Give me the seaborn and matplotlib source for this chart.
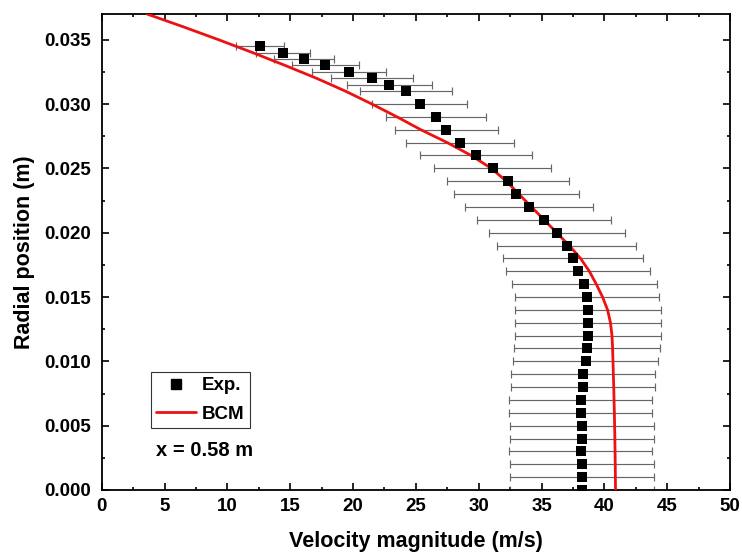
import numpy as np
import pandas as pd
import matplotlib
matplotlib.use("Agg")
import matplotlib.pyplot as plt
import seaborn as sns
from matplotlib.lines import Line2D
from matplotlib.ticker import MultipleLocator

# ---- data ----
exp_r = [0.0345, 0.0340, 0.0335, 0.0330, 0.0325, 0.0320, 0.0315, 0.0310,
         0.030, 0.029, 0.028, 0.027, 0.026, 0.025, 0.024, 0.023, 0.022, 0.021,
         0.020, 0.019, 0.018, 0.017, 0.016, 0.015, 0.014, 0.013, 0.012, 0.011,
         0.010, 0.009, 0.008, 0.007, 0.006, 0.005, 0.004, 0.003, 0.002, 0.001, 0.000]
exp_v = [12.6, 14.4, 16.1, 17.8, 19.7, 21.5, 22.9, 24.2,
         25.3, 26.6, 27.4, 28.5, 29.8, 31.1, 32.3, 33.0, 34.0, 35.2,
         36.2, 37.0, 37.5, 37.9, 38.4, 38.6, 38.7, 38.7, 38.7, 38.6,
         38.5, 38.3, 38.3, 38.1, 38.1, 38.2, 38.2, 38.1, 38.2, 38.2, 38.2]
exp_err = [1.90, 2.15, 2.40, 2.65, 2.95, 3.25, 3.40, 3.65,
           3.80, 4.00, 4.10, 4.30, 4.45, 4.65, 4.85, 4.95, 5.10, 5.30,
           5.40, 5.55, 5.60, 5.70, 5.75, 5.75, 5.80, 5.80, 5.80, 5.80,
           5.78, 5.75, 5.75, 5.72, 5.72, 5.72, 5.72, 5.72, 5.72, 5.72, 5.72]

bcm_r = [0.037, 0.036, 0.035, 0.034, 0.033, 0.032, 0.031, 0.030, 0.029, 0.028,
         0.027, 0.026, 0.025, 0.024, 0.023, 0.022, 0.021, 0.020, 0.019, 0.018,
         0.017, 0.016, 0.015, 0.014, 0.013, 0.012, 0.011, 0.010, 0.008, 0.006,
         0.004, 0.002, 0.000]
bcm_v = [3.6, 6.5, 9.3, 12.0, 14.6, 17.1, 19.4, 21.5, 23.5, 25.4,
         27.5, 29.4, 31.0, 32.2, 33.2, 34.2, 35.2, 36.2, 37.2, 38.1,
         38.8, 39.35, 39.85, 40.25, 40.48, 40.6, 40.65, 40.68, 40.74, 40.79,
         40.83, 40.86, 40.88]

annot = "x = 0.58 m"

exp_df = pd.DataFrame({"v": exp_v, "r": exp_r, "err": exp_err})
bcm_df = pd.DataFrame({"v": bcm_v, "r": bcm_r})

sns.set_theme(style="ticks")
plt.rcParams["font.family"] = ["Liberation Sans", "DejaVu Sans"]
plt.rcParams["font.weight"] = "bold"
plt.rcParams["axes.labelweight"] = "bold"
plt.rcParams["text.color"] = "black"
plt.rcParams["axes.labelcolor"] = "black"
plt.rcParams["xtick.color"] = "black"
plt.rcParams["ytick.color"] = "black"
plt.rcParams["xtick.labelcolor"] = "black"
plt.rcParams["ytick.labelcolor"] = "black"

fig = plt.figure(figsize=(7.42, 5.57), dpi=100)
ax = fig.add_axes([0.137, 0.1203, 0.847, 0.8546])

# error bars
ax.errorbar(exp_df["v"], exp_df["r"], xerr=exp_df["err"], fmt="none",
            ecolor="#666666", elinewidth=0.85, capsize=3.2, capthick=0.85, zorder=2)

# BCM curve
sns.lineplot(data=bcm_df, x="v", y="r", sort=False, color="#ee1111",
             linewidth=2.0, ax=ax, zorder=3)

# experimental squares
sns.scatterplot(data=exp_df, x="v", y="r", marker="s", s=52, color="black",
                edgecolor="black", linewidth=0, ax=ax, zorder=4)

ax.set_xlim(0, 50)
ax.set_ylim(0, 0.037)
ax.xaxis.set_major_locator(MultipleLocator(5))
ax.xaxis.set_minor_locator(MultipleLocator(2.5))
ax.yaxis.set_major_locator(MultipleLocator(0.005))
ax.yaxis.set_minor_locator(MultipleLocator(0.0025))
ax.yaxis.set_major_formatter(matplotlib.ticker.FormatStrFormatter("%.3f"))

ax.tick_params(which="both", direction="in", top=True, right=True,
               width=1.2, colors="black")
ax.tick_params(which="major", length=5)
ax.tick_params(which="minor", length=2.5)
ax.tick_params(axis="x", which="major", labelsize=13.5, pad=6)
ax.tick_params(axis="y", which="major", labelsize=13.5, pad=8)
for lab in ax.get_xticklabels() + ax.get_yticklabels():
    lab.set_fontweight("bold")
    lab.set_color("black")
for sp in ax.spines.values():
    sp.set_linewidth(1.3)
    sp.set_color("black")

ax.set_xlabel("Velocity magnitude (m/s)", fontsize=15.5, fontweight="bold",
              labelpad=11, color="black")
ax.set_ylabel("Radial position (m)", fontsize=15.5, fontweight="bold",
              labelpad=6, color="black")

handles = [
    Line2D([], [], marker="s", linestyle="none", color="black", markersize=7),
    Line2D([], [], color="#ee1111", linewidth=2.0),
]
leg = ax.legend(handles, ["Exp.", "BCM"], loc="upper left",
                bbox_to_anchor=(0.078, 0.2485), borderaxespad=0,
                frameon=True, fancybox=False, edgecolor="black",
                prop={"size": 13.5, "weight": "bold"}, handlelength=2.1,
                handletextpad=0.35, borderpad=0.3, labelspacing=0.6,
                labelcolor="black")
leg.get_frame().set_linewidth(0.8)

ax.text(0.163, 0.084, annot, transform=ax.transAxes, ha="center", va="center",
        fontsize=14.5, fontweight="bold", color="black")

fig.savefig("out.png", dpi=100)
